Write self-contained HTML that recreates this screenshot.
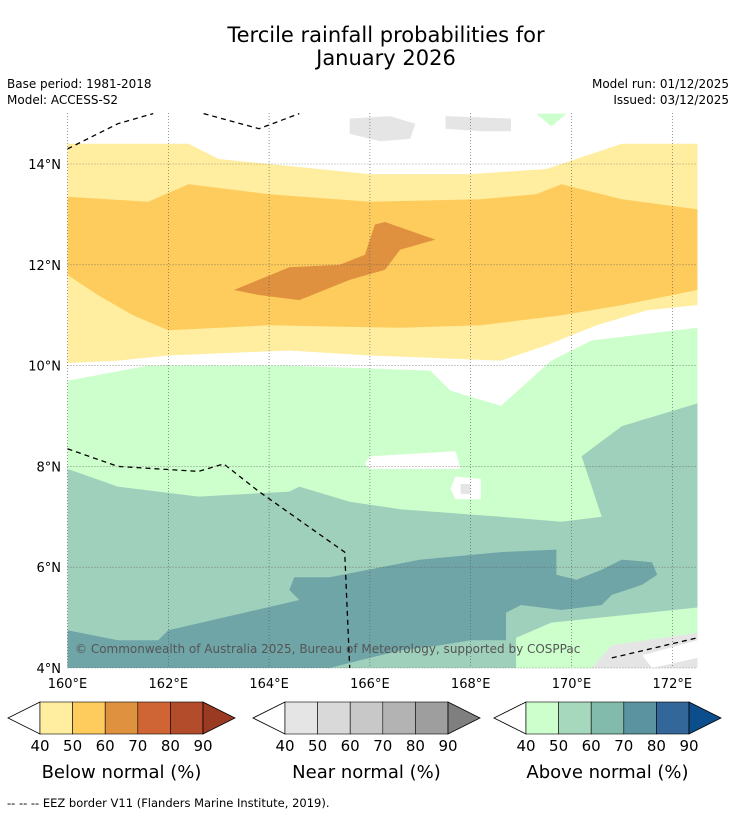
<!DOCTYPE html>
<html><head><meta charset="utf-8">
<style>
body{margin:0;background:#fff;width:736px;height:816px;overflow:hidden;font-family:"Liberation Sans","DejaVu Sans",sans-serif;}
svg text{font-family:"DejaVu Sans","Liberation Sans",sans-serif;}
</style></head>
<body>
<svg id="chart" width="736" height="816" xmlns="http://www.w3.org/2000/svg">
<text x="386" y="42" font-size="21" text-anchor="middle">Tercile rainfall probabilities for</text>
<text x="386" y="65" font-size="21" text-anchor="middle">January 2026</text>
<text x="7" y="88" font-size="12">Base period: 1981-2018</text>
<text x="7" y="104" font-size="12">Model: ACCESS-S2</text>
<text x="729" y="88" font-size="12" text-anchor="end">Model run: 01/12/2025</text>
<text x="729" y="104" font-size="12" text-anchor="end">Issued: 03/12/2025</text>
<defs><clipPath id="mapclip"><rect x="67.5" y="113" width="630" height="555"/></clipPath></defs>
<g id="map" clip-path="url(#mapclip)"></g>
<g id="axes"></g>
<g id="cbars"></g>
<text x="7" y="807" font-size="11.5">--  --  -- EEZ border V11 (Flanders Marine Institute, 2019).</text>
</svg>
<script>
// ---- data ----
const lonTicks=[160,162,164,166,168,170,172];
const latTicks=[4,6,8,10,12,14];
const layerNames=['yellow-40-50','orange-50-60','dark-orange-60-70','green-40-50','teal-50-60','teal-60-70','green-bottom-right','gray-bottom-right'];
const layerColors=['#ffeda0','#fecc5c','#e0913f','#ccffcc','#9fd0bb','#6fa5a7','#ccffcc','#e5e5e5'];
const layerPolys=[
 [[160,14.4],[162.4,14.4],[163,14.1],[164,14],[166,13.8],[168,13.8],[169.5,13.9],[171,14.4],[172.5,14.4],[172.5,11.2],[171.5,11.1],[170.5,10.8],[169.5,10.4],[168.6,10.1],[166,10.2],[164.4,10.3],[162,10.2],[161,10.1],[160,10.05]],
 [[160,13.35],[161.6,13.25],[162.4,13.6],[164,13.4],[166,13.25],[168.2,13.3],[169.3,13.4],[169.8,13.6],[171,13.3],[172.5,13.1],[172.5,11.5],[171,11.2],[169.8,11],[168.2,10.8],[166.6,10.75],[164,10.8],[162,10.7],[161.3,11],[160.6,11.4],[160,11.8]],
 [[163.3,11.5],[164.4,11.95],[165.4,12],[165.9,12.2],[166.1,12.8],[166.3,12.85],[167.3,12.5],[166.6,12.3],[166.3,11.9],[165.6,11.7],[164.6,11.3],[163.8,11.4]],
 [[160,9.7],[161.6,10],[164.4,10],[167.2,9.9],[167.6,9.5],[168.6,9.2],[169.6,10.1],[170.4,10.5],[172.5,10.75],[172.5,4],[160,4]],
 [[160,7.95],[161,7.6],[162.6,7.4],[164.4,7.5],[164.6,7.6],[165.6,7.3],[166.6,7.15],[168.6,7],[169.8,6.9],[170.6,7],[170.4,7.6],[170.2,8.2],[171,8.8],[172.5,9.25],[172.5,4],[160,4]],
 [[160,4.75],[161,4.55],[161.8,4.55],[162,4.75],[164.6,5.35],[164.4,5.55],[164.5,5.8],[165.2,5.8],[167,6.15],[168.6,6.3],[169.7,6.35],[169.7,5.85],[170.1,5.75],[170.6,5.95],[171,6.15],[171.6,6.1],[171.7,5.85],[171.4,5.65],[170.8,5.45],[170.6,5.25],[169.8,5.15],[169,5.25],[168.7,5.1],[168.7,4.55],[168,4.55],[167.4,4.45],[166.6,4.35],[165.8,4.15],[165.2,4],[160,4]],
 [[168.9,4],[168.9,4.6],[169.6,4.9],[172.5,5.2],[172.5,4]],
 [[170.4,4],[170.8,4.45],[172.5,4.7],[172.5,4]]
];
const holeColors=['#ffffff','#ffffff','#e5e5e5','#e5e5e5','#e5e5e5','#ccffcc','#ffffff'];
const holePolys=[
 [[166,8.2],[167.7,8.3],[167.8,7.95],[166,7.95],[165.9,8.05]],
 [[167.7,7.8],[168.2,7.75],[168.2,7.35],[167.7,7.35],[167.6,7.55]],
 [[167.8,7.65],[168,7.65],[168,7.45],[167.8,7.45]],
 [[165.6,14.9],[166.4,14.95],[166.9,14.8],[166.8,14.5],[166.2,14.45],[165.6,14.6]],
 [[167.5,14.95],[168.8,14.9],[168.8,14.65],[168.2,14.65],[167.5,14.7]],
 [[169.3,15],[169.9,15],[169.6,14.75]],
 [[171.4,4.25],[172.5,4.55],[172.5,4.2],[171.6,4]]
];
const eezLines=[
 [[160,14.3],[161,14.8],[161.7,15]],
 [[162.7,15],[163.8,14.7],[164.6,15]],
 [[160,8.35],[161,8],[162.6,7.9],[163.1,8.05],[163.8,7.5],[165.5,6.3],[165.6,4]],
 [[170.8,4.2],[172.5,4.6]]
];
// ---- axes ----
const X0=67.5,PX=50.4,Y0=668;
const xs=lon=>X0+(lon-160)*PX;
const ys=lat=>Y0-(lat-4)*PX;
const NS='http://www.w3.org/2000/svg';
function mk(tag,attrs,parent){const e=document.createElementNS(NS,tag);for(const k in attrs)e.setAttribute(k,attrs[k]);parent.appendChild(e);return e;}
const map=document.getElementById('map');
const pts=p=>p.map(q=>xs(q[0]).toFixed(1)+','+ys(q[1]).toFixed(1)).join(' ');
layerPolys.forEach((p,i)=>{const e=mk('polygon',{points:pts(p),fill:layerColors[i]},map);

});
holePolys.forEach((p,i)=>{const e=mk('polygon',{points:pts(p),fill:holeColors[i]},map);

});
eezLines.forEach(p=>{const e=mk('polyline',{points:pts(p),fill:'none',stroke:'#000','stroke-width':1.3,'stroke-dasharray':'5,4'},map);

});
const ax=document.getElementById('axes');
lonTicks.forEach(l=>{const g=mk('line',{x1:xs(l),x2:xs(l),y1:113,y2:668,stroke:'#555','stroke-width':0.6,'stroke-dasharray':'1,2'},ax);


const t=mk('text',{x:xs(l),y:688,'font-size':13,'text-anchor':'middle'},ax);t.textContent=l+'°E';

});
latTicks.forEach(l=>{const g=mk('line',{x1:67.5,x2:697.5,y1:ys(l),y2:ys(l),stroke:'#555','stroke-width':0.6,'stroke-dasharray':'1,2'},ax);


const t=mk('text',{x:61,y:ys(l)+5,'font-size':13,'text-anchor':'end'},ax);t.textContent=l+'°N';

});
const cp=mk('text',{x:75,y:653,'font-size':12,fill:'#555'},ax);cp.textContent='© Commonwealth of Australia 2025, Bureau of Meteorology, supported by COSPPac';


// ---- colorbars ----
const cbTitles=['Below normal (%)','Near normal (%)','Above normal (%)'];
const cbColors=[['#ffeda0','#fecc5c','#e0913f','#cf6434','#b24c2a','#9a3a22'],['#e5e5e5','#d9d9d9','#c8c8c8','#b3b3b3','#9e9e9e','#7f7f7f'],['#ccffcc','#a5d8bd','#82bbab','#5b93a0','#33679a','#0c4e8b']];
const cbLabels=[40,50,60,70,80,90];
const cbX=[40,285,526];
const cb=document.getElementById('cbars');
cbX.forEach((x0,k)=>{const w=32.6,y=702,h=32;
const a=mk('polygon',{points:`${x0},${y} ${x0-32},${y+h/2} ${x0},${y+h}`,fill:'#fff',stroke:'#000','stroke-width':0.8},cb);


for(let i=0;i<5;i++){const r=mk('rect',{x:x0+i*w,y:y,width:w,height:h,fill:cbColors[k][i],stroke:'#000','stroke-width':0.6},cb);

}
const xe=x0+5*w;
const b=mk('polygon',{points:`${xe},${y} ${xe+32},${y+h/2} ${xe},${y+h}`,fill:cbColors[k][5],stroke:'#000','stroke-width':0.8},cb);


cbLabels.forEach((v,i)=>{const t=mk('text',{x:x0+i*w,y:751,'font-size':15,'text-anchor':'middle'},cb);t.textContent=v;

});
const t=mk('text',{x:x0+2.5*w,y:778,'font-size':18,'text-anchor':'middle'},cb);t.textContent=cbTitles[k];

});
</script>
</body></html>
